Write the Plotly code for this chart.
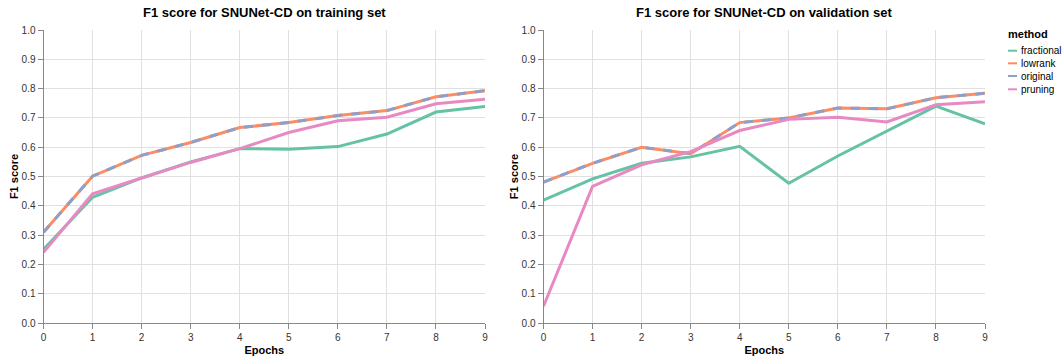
import plotly.graph_objects as go

epochs = list(range(10))
methods = ["fractional", "lowrank", "original", "pruning"]
colors = {"fractional": "#66c2a5", "lowrank": "#fc8d62", "original": "#8da0cb", "pruning": "#e78ac3"}

train_fractional = [0.251, 0.429, 0.495, 0.550, 0.595, 0.593, 0.602, 0.645, 0.720, 0.739]
train_lowrank = [0.310, 0.501, 0.572, 0.616, 0.667, 0.684, 0.708, 0.725, 0.772, 0.793]
train_original = [0.310, 0.501, 0.572, 0.616, 0.667, 0.684, 0.708, 0.725, 0.772, 0.793]
train_pruning = [0.241, 0.441, 0.495, 0.548, 0.595, 0.650, 0.690, 0.702, 0.748, 0.764]

val_fractional = [0.419, 0.492, 0.545, 0.567, 0.603, 0.477, 0.570, 0.655, 0.740, 0.680]
val_lowrank = [0.481, 0.545, 0.600, 0.578, 0.684, 0.700, 0.734, 0.731, 0.769, 0.784]
val_original = [0.481, 0.545, 0.600, 0.578, 0.684, 0.700, 0.734, 0.731, 0.769, 0.784]
val_pruning = [0.057, 0.466, 0.540, 0.585, 0.657, 0.695, 0.702, 0.686, 0.745, 0.755]

train = {"fractional": train_fractional, "lowrank": train_lowrank, "original": train_original, "pruning": train_pruning}
val = {"fractional": val_fractional, "lowrank": val_lowrank, "original": val_original, "pruning": val_pruning}

W, H = 1062, 358
FONT = "Liberation Sans, Arial, Helvetica, sans-serif"

fig = go.Figure()
for data, xa, ya in [(train, "x", "y"), (val, "x2", "y2")]:
    for m in methods:
        fig.add_trace(go.Scatter(
            x=epochs, y=data[m], mode="lines", name=m, xaxis=xa, yaxis=ya,
            line=dict(color=colors[m], width=3, dash="dash" if m == "original" else "solid"),
            showlegend=False,
        ))

def px_x(p):
    return p / W

def px_y(p):
    return (H - p) / H

axis_common = dict(
    showgrid=True, gridcolor="#e0e0e0", gridwidth=1,
    showline=True, linecolor="#888888", linewidth=1,
    ticks="outside", ticklen=5, tickcolor="#888888",
    tickfont=dict(family=FONT, size=10, color="#333333"),
    zeroline=False, automargin=False,
)
xdom1 = [px_x(43.5), px_x(485)]
xdom2 = [px_x(543.5), px_x(985)]
ydom = [px_y(323), px_y(30)]

for i, dom in [("", xdom1), ("2", xdom2)]:
    fig.layout["xaxis" + i] = dict(
        axis_common, domain=dom, range=[0, 9], tickmode="array", tickvals=epochs,
        anchor="y" + i,
        title=dict(text="<b>Epochs</b>", font=dict(family=FONT, size=11, color="#000"), standoff=4),
    )
    fig.layout["yaxis" + i] = dict(
        axis_common, domain=ydom, range=[0, 1], tickmode="array",
        tickvals=[k / 10 for k in range(11)], tickformat=".1f", anchor="x" + i,
        title=dict(text="<b>F1 score</b>", font=dict(family=FONT, size=11, color="#000"), standoff=0),
    )

annotations = [
    dict(text="<b>F1 score for SNUNet-CD on training set</b>", x=(xdom1[0] + xdom1[1]) / 2, y=px_y(13),
         xref="paper", yref="paper", showarrow=False, xanchor="center", yanchor="middle",
         font=dict(family=FONT, size=13, color="#000")),
    dict(text="<b>F1 score for SNUNet-CD on validation set</b>", x=(xdom2[0] + xdom2[1]) / 2, y=px_y(13),
         xref="paper", yref="paper", showarrow=False, xanchor="center", yanchor="middle",
         font=dict(family=FONT, size=13, color="#000")),
    dict(text="<b>method</b>", x=px_x(1006), y=px_y(34), xref="paper", yref="paper", showarrow=False,
         xanchor="left", yanchor="middle", font=dict(family=FONT, size=11, color="#000")),
]
shapes = []
leg_y = [50.7, 63.3, 76, 89.3]
for m, yy in zip(methods, leg_y):
    shapes.append(dict(type="line", xref="paper", yref="paper", x0=px_x(1008), x1=px_x(1017),
                       y0=px_y(yy), y1=px_y(yy), line=dict(color=colors[m], width=2)))
    annotations.append(dict(text=m, x=px_x(1019), y=px_y(yy), xref="paper", yref="paper", showarrow=False,
                            xanchor="left", yanchor="middle",
                            font=dict(family=FONT, size=10, color="#000")))

fig.update_layout(
    width=W, height=H, margin=dict(l=0, r=0, t=0, b=0, autoexpand=False),
    paper_bgcolor="white", plot_bgcolor="white",
    annotations=annotations, shapes=shapes,
    font=dict(family=FONT),
)

fig.write_html("out.html", config={"displayModeBar": False},
               post_script="document.body.style.margin='0px';")
